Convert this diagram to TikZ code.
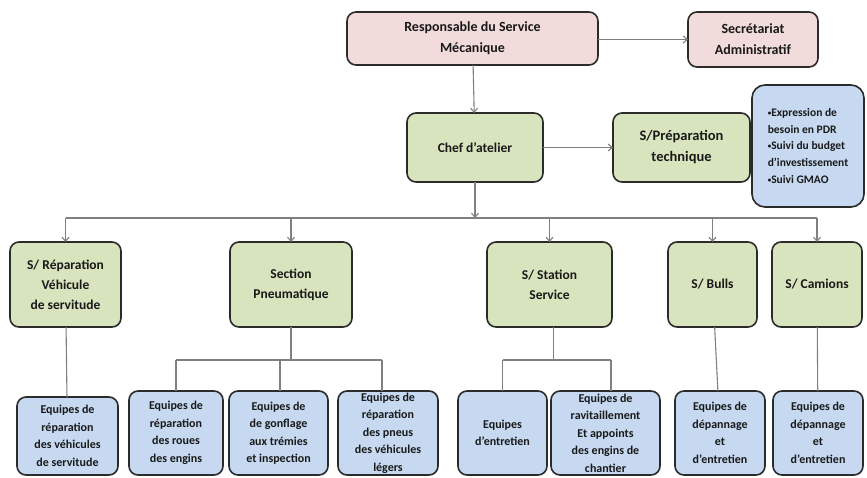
\documentclass[tikz,border=0pt]{standalone}
\usepackage{fontspec}
\setmainfont{Carlito}
\usetikzlibrary{arrows.meta}
\definecolor{pinkf}{HTML}{F2DCDB}
\definecolor{greenf}{HTML}{D7E4BD}
\definecolor{bluef}{HTML}{C6D9F1}
\definecolor{bord}{HTML}{2B2B2B}
\definecolor{conn}{HTML}{808080}
\newcommand{\smbul}{{\fontsize{7}{7}\selectfont\raisebox{0.4ex}{•}}}
\tikzset{
  box/.style={draw=bord, line width=1.6pt, rounded corners=9pt, inner sep=1pt, outer sep=0pt, align=center, font=\bfseries, text=black!90},
  pinkbox/.style={box, fill=pinkf, font=\bfseries\fontsize{14}{21}\selectfont},
  greenbox/.style={box, fill=greenf, font=\bfseries\fontsize{13.5}{20}\selectfont},
  bluebox/.style={box, fill=bluef, font=\bfseries\fontsize{12}{17.5}\selectfont},
  arr/.style={draw=conn, line width=1.1pt, -{Straight Barb[length=4pt,width=7pt]}},
  ln/.style={draw=conn, line width=1.1pt}
}
\begin{document}
\begin{tikzpicture}[x=1pt,y=-1pt]
\useasboundingbox (0,0) rectangle (867,477);
% top
\node[pinkbox, minimum width=251pt, minimum height=53pt] (resp) at (472.5,38.5) {Responsable du Service\\Mécanique};
\node[pinkbox, minimum width=130pt, minimum height=55pt] (sec) at (753,39.5) {Secrétariat\\Administratif};
\node[greenbox, minimum width=136pt, minimum height=69pt] (chef) at (475,147.5) {Chef d'atelier};
\node[greenbox, font=\bfseries\fontsize{14.5}{21}\selectfont, minimum width=137pt, minimum height=69pt] (prep) at (681.5,147.5) {S/Préparation\\technique};
\node[box, fill=bluef, rounded corners=13pt, minimum width=112pt, minimum height=122pt, align=left, font=\bfseries\fontsize{11.5}{16.8}\selectfont] (list) at (808,146) {\smbul Expression de\\besoin en PDR\\\smbul Suivi du budget\\d'investissement\\\smbul Suivi GMAO};
% row 2
\node[greenbox, minimum width=111pt, minimum height=85pt] (rep) at (65.5,284.5) {S/ Réparation\\Véhicule\\de servitude};
\node[greenbox, minimum width=122pt, minimum height=85pt] (pneu) at (291,284.5) {Section\\Pneumatique};
\node[greenbox, minimum width=125pt, minimum height=85pt] (stat) at (549.5,284.5) {S/ Station\\Service};
\node[greenbox, minimum width=89pt, minimum height=85pt] (bulls) at (712.5,284.5) {S/ Bulls};
\node[greenbox, minimum width=90pt, minimum height=85pt] (cam) at (817,284.5) {S/ Camions};
% row 3
\node[bluebox, minimum width=101pt, minimum height=78pt] (e1) at (67.5,436) {Equipes de\\réparation\\des véhicules\\de servitude};
\node[bluebox, minimum width=94pt, minimum height=84pt] (e2) at (176,433) {Equipes de\\réparation\\des roues\\des engins};
\node[bluebox, minimum width=99pt, minimum height=84pt] (e3) at (278.5,433) {Equipes de\\de gonflage\\aux trémies\\et inspection};
\node[bluebox, minimum width=100pt, minimum height=84pt] (e4) at (388,433) {Equipes de\\réparation\\des pneus\\des véhicules\\légers};
\node[bluebox, minimum width=89pt, minimum height=84pt] (e5) at (502.5,433) {Equipes\\d'entretien};
\node[bluebox, minimum width=109pt, minimum height=84pt] (e6) at (605.5,433) {Equipes de\\ravitaillement\\Et appoints\\des engins de\\chantier};
\node[bluebox, minimum width=90pt, minimum height=84pt] (e7) at (720,433) {Equipes de\\dépannage\\et\\d'entretien};
\node[bluebox, minimum width=90pt, minimum height=84pt] (e8) at (818,433) {Equipes de\\dépannage\\et\\d'entretien};
% connectors
\coordinate (bus) at (475,218);
\coordinate (pbus) at (0,360);
\draw[arr] (resp.east |- sec.west) -- (sec.west);
\draw[arr] (resp) -- (chef);
\draw[arr] (chef) -- (prep);
\draw[arr] (chef) -- (bus);
\draw[ln] (rep.north |- bus) -- (cam.north |- bus);
\foreach \n in {rep,pneu,stat,bulls,cam}{
  \draw[arr] (\n.north |- bus) -- (\n.north);
}
\draw[ln] (rep) -- (e1);
\draw[ln] (bulls) -- (e7);
\draw[ln] (cam) -- (e8);
\draw[ln] (pneu.south) -- (pneu.south |- pbus);
\draw[ln] (e2.north |- pbus) -- ([xshift=-6pt]e4.north |- pbus);
\draw[ln] (e2.north |- pbus) -- (e2.north);
\draw[ln] ([xshift=1.5pt]e3.north |- pbus) -- ([xshift=1.5pt]e3.north);
\draw[ln] ([xshift=-6pt]e4.north |- pbus) -- ([xshift=-6pt]e4.north);
\draw[ln] ([xshift=4pt]stat.south) -- ([xshift=4pt]stat.south |- pbus);
\draw[ln] (e5.north |- pbus) -- ([xshift=5.5pt]e6.north |- pbus);
\draw[ln] (e5.north |- pbus) -- (e5.north);
\draw[ln] ([xshift=5.5pt]e6.north |- pbus) -- ([xshift=5.5pt]e6.north);
\end{tikzpicture}
\end{document}
